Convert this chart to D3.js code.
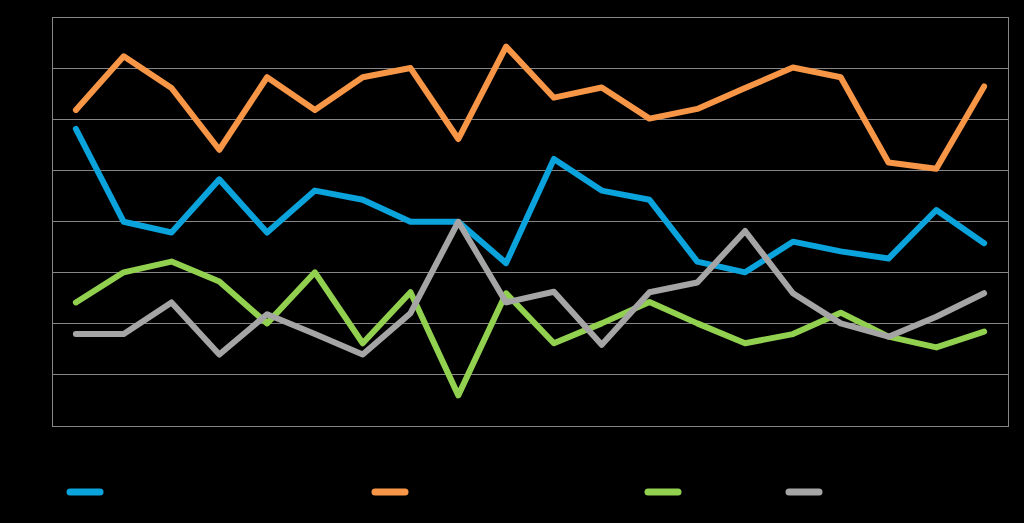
<!DOCTYPE html>
<html>
<head>
<meta charset="utf-8">
<script src="https://cdn.jsdelivr.net/npm/d3@7"></script>
<style>
  html, body { margin: 0; padding: 0; background: #000; }
  svg { display: block; }
</style>
</head>
<body>
<svg id="chart" width="1024" height="523"></svg>
<script>
// categories (20 periods along the x axis)
var categories = d3.range(1, 21);

// series values (one unit = one gridline)
var blueValues   = [5.81, 3.99, 3.78, 4.82, 3.78, 4.60, 4.42, 3.99, 3.99, 3.18,
                    5.22, 4.60, 4.42, 3.21, 3.00, 3.60, 3.41, 3.27, 4.22, 3.57];
var orangeValues = [6.18, 7.23, 6.61, 5.40, 6.82, 6.18, 6.82, 7.00, 5.61, 7.42,
                    6.42, 6.62, 6.01, 6.20, 6.61, 7.01, 6.82, 5.15, 5.03, 6.64];
var greenValues  = [2.41, 3.00, 3.21, 2.82, 2.00, 3.00, 1.61, 2.61, 0.59, 2.59,
                    1.61, 2.00, 2.42, 2.00, 1.61, 1.79, 2.21, 1.74, 1.53, 1.84];
var grayValues   = [1.79, 1.79, 2.41, 1.39, 2.18, 1.79, 1.39, 2.20, 3.99, 2.41,
                    2.62, 1.58, 2.61, 2.80, 3.81, 2.59, 2.00, 1.74, 2.13, 2.59];

var yTicks = d3.range(0, 9);

var series = [
    {values: blueValues,   color: "#0aa3dc"},
    {values: orangeValues, color: "#f79646"},
    {values: greenValues,  color: "#92d050"},
    {values: grayValues,   color: "#a5a5a5"}
];

var svg = d3.select("#chart");
var plot = {left: 52, right: 1008, top: 17, bottom: 425.5};

var x = d3.scalePoint()
    .domain(categories)
    .range([plot.left, plot.right])
    .padding(0.5);

var y = d3.scaleLinear()
    .domain([0, 8])
    .range([plot.bottom, plot.top]);

// gridlines
svg.append("g")
    .selectAll("line")
    .data(yTicks)
    .enter().append("line")
    .attr("x1", plot.left)
    .attr("x2", plot.right)
    .attr("y1", function(d) { return Math.round(y(d)) + 0.5; })
    .attr("y2", function(d) { return Math.round(y(d)) + 0.5; })
    .attr("stroke", "#868686")
    .attr("stroke-width", 1);

// plot frame
svg.append("rect")
    .attr("x", plot.left + 0.5)
    .attr("y", Math.round(y(8)) + 0.5)
    .attr("width", plot.right - plot.left)
    .attr("height", Math.round(y(0)) - Math.round(y(8)))
    .attr("fill", "none")
    .attr("stroke", "#868686")
    .attr("stroke-width", 1);

var line = d3.line()
    .x(function(d, i) { return x(categories[i]); })
    .y(function(d) { return y(d); });

svg.append("g")
    .selectAll("path")
    .data(series)
    .enter().append("path")
    .attr("d", function(s) { return line(s.values); })
    .attr("fill", "none")
    .attr("stroke", function(s) { return s.color; })
    .attr("stroke-width", 6)
    .attr("stroke-linecap", "round")
    .attr("stroke-linejoin", "round");

// legend keys (labels are not visible in the picture)
var legendX = [67, 372, 645, 786];
var legend = svg.append("g");
legend.selectAll("line")
    .data(series)
    .enter().append("line")
    .attr("x1", function(s, i) { return legendX[i] + 3; })
    .attr("x2", function(s, i) { return legendX[i] + 33; })
    .attr("y1", 492)
    .attr("y2", 492)
    .attr("stroke", function(s) { return s.color; })
    .attr("stroke-width", 7)
    .attr("stroke-linecap", "round");
</script>
</body>
</html>
